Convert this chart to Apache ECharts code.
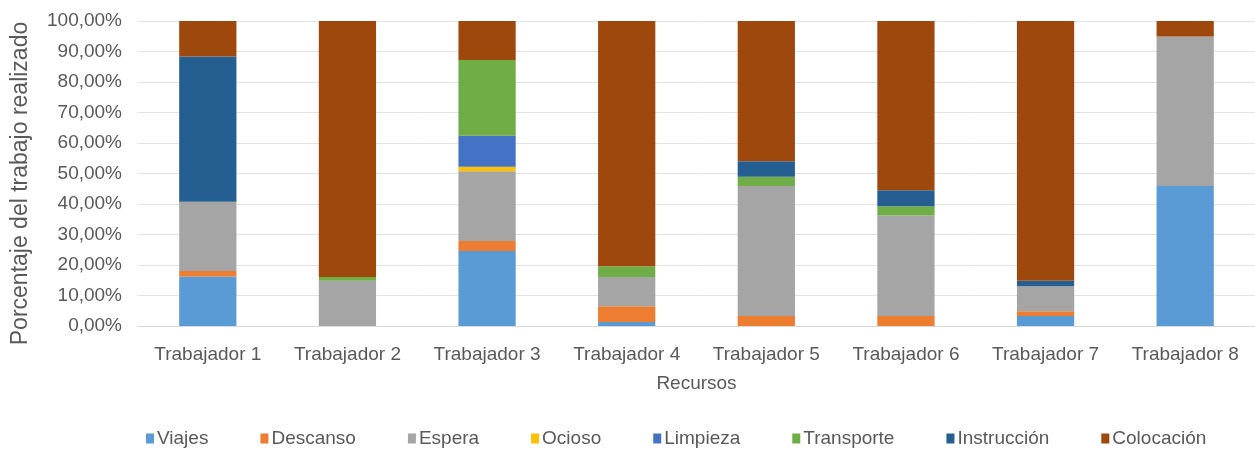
<!DOCTYPE html>
<html>
<head>
<meta charset="utf-8">
<script src="https://cdn.jsdelivr.net/npm/echarts@6/dist/echarts.min.js"></script>
<style>
  html, body { margin: 0; padding: 0; background: #fff; }
  #chart { width: 1255px; height: 450px; }
</style>
</head>
<body>
<div id="chart"></div>
<script>
// categories
const workers = ['Trabajador 1', 'Trabajador 2', 'Trabajador 3', 'Trabajador 4',
  'Trabajador 5', 'Trabajador 6', 'Trabajador 7', 'Trabajador 8']

// percentage of work per activity
const viajes      = [16.2, 0,    24.6, 1.3,  0,    0,    3.3,  45.9]
const descanso    = [1.8,  0,    3.3,  5.2,  3.3,  3.3,  1.5,  0]
const espera      = [22.7, 14.8, 22.8, 9.6,  42.6, 32.9, 8.2,  49.0]
const ocioso      = [0,    0,    1.5,  0,    0,    0,    0,    0]
const limpieza    = [0,    0,    10.2, 0,    0,    0,    0,    0]
const transporte  = [0,    1.3,  24.8, 3.5,  3.0,  3.1,  0,    0]
const instruccion = [47.7, 0,    0,    0,    5.1,  5.2,  1.8,  0]
const colocacion  = [11.6, 83.9, 12.8, 80.4, 46.0, 55.5, 85.2, 5.1]

const yTicks = [0, 10, 20, 30, 40, 50, 60, 70, 80, 90, 100]

const textColor = '#595959'
const font = 'Liberation Sans, Arial, sans-serif'

const seriesDefs = [
  ['Viajes', viajes, '#5B9BD5'],
  ['Descanso', descanso, '#ED7D31'],
  ['Espera', espera, '#A5A5A5'],
  ['Ocioso', ocioso, '#FFC000'],
  ['Limpieza', limpieza, '#4472C4'],
  ['Transporte', transporte, '#70AD47'],
  ['Instrucción', instruccion, '#255E91'],
  ['Colocación', colocacion, '#9E480E']
]

const chart = echarts.init(document.getElementById('chart'))
chart.setOption({
  animation: false,
  textStyle: { fontFamily: font, color: textColor },
  grid: { left: 138, right: 0, top: 21, bottom: 124 },
  legend: {
    bottom: -3,
    left: 141,
    itemWidth: 8,
    itemHeight: 10,
    itemGap: 52,
    icon: 'rect',
    textStyle: { fontSize: 19, color: textColor, fontFamily: font, padding: [0, 0, 0, -2] },
    data: seriesDefs.map(s => s[0])
  },
  xAxis: {
    type: 'category',
    data: workers,
    name: 'Recursos',
    nameLocation: 'middle',
    nameGap: 48,
    nameTextStyle: { fontSize: 19, color: textColor },
    axisLine: { lineStyle: { color: '#d9d9d9' } },
    axisTick: { show: false },
    axisLabel: { fontSize: 19, color: textColor, margin: 19 }
  },
  yAxis: {
    type: 'value',
    min: yTicks[0],
    max: yTicks[yTicks.length - 1],
    interval: 10,
    name: 'Porcentaje del trabajo realizado',
    nameLocation: 'middle',
    nameGap: 106,
    // shift the rotated title a little downwards, as in the original
    nameTextStyle: { fontSize: 23, color: textColor, padding: [0, 20, 0, 0] },
    axisLabel: {
      fontSize: 19,
      color: textColor,
      margin: 16,
      formatter: v => v.toFixed(2).replace('.', ',') + '%'
    },
    splitLine: { lineStyle: { color: '#e3e3e3' } }
  },
  series: seriesDefs.map(([name, data, color]) => ({
    name,
    type: 'bar',
    stack: 'total',
    barWidth: '41%',
    data,
    itemStyle: { color }
  }))
})
</script>
</body>
</html>
